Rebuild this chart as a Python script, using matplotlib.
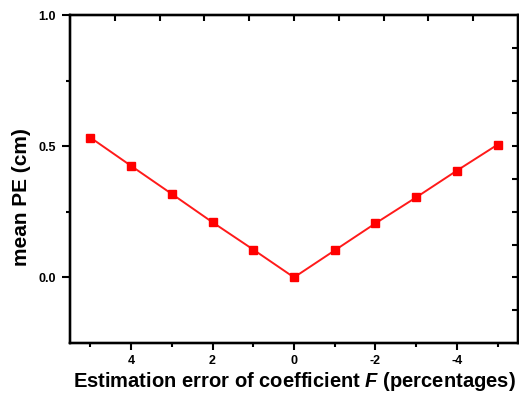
import matplotlib
matplotlib.use("Agg")
import matplotlib.pyplot as plt
import numpy as np

plt.rcParams['font.family'] = ['Liberation Sans', 'DejaVu Sans']
plt.rcParams['mathtext.fontset'] = 'custom'
plt.rcParams['mathtext.bfit'] = 'Liberation Sans:bold:italic'
plt.rcParams['mathtext.bf'] = 'Liberation Sans:bold'
plt.rcParams['mathtext.it'] = 'Liberation Sans:italic'
plt.rcParams['mathtext.rm'] = 'Liberation Sans'

error_pct = [5, 4, 3, 2, 1, 0, -1, -2, -3, -4, -5]
mean_pe = [0.533, 0.425, 0.318, 0.210, 0.106, 0.0, 0.103, 0.206, 0.305, 0.407, 0.506]
xticks = [4, 2, 0, -2, -4]
xtick_labels = ['4', '2', '0', '-2', '-4']
yticks = [0.0, 0.5, 1.0]
ytick_labels = ['0.0', '0.5', '1.0']

fig = plt.figure(figsize=(5.19, 4.03), dpi=100)
ax = fig.add_axes([70/519, 60/403, 448/519, 328/403])

ax.plot(error_pct, mean_pe, color='#ff1a1a', lw=1.4, marker='s', ms=5.5,
        markerfacecolor='#ff0000', markeredgecolor='#ff0000')

ax.set_xlim(5.5, -5.5)
ax.set_ylim(-0.25, 1.0)
ax.set_xticks(xticks)
ax.set_xticklabels(xtick_labels)
ax.set_xticks([5, 3, 1, -1, -3, -5], minor=True)
ax.set_yticks(yticks)
ax.set_yticklabels(ytick_labels)
ax.set_yticks([0.25, 0.75], minor=True)

for lab in ax.get_xticklabels() + ax.get_yticklabels():
    lab.set_fontweight('bold')
    lab.set_fontsize(9)

ax.tick_params(axis='both', which='major', direction='out', length=5, width=1.5, pad=4)
ax.tick_params(axis='y', which='major', length=6, pad=4)
ax.tick_params(axis='both', which='minor', direction='out', length=3, width=1.5)
for s in ax.spines.values():
    s.set_linewidth(1.6)

# top and right ticks (10 equal divisions, inward)
tw = ax.twiny()
tw.set_xlim(0, 1)
tw.set_xticks(np.arange(1, 10) / 10)
tw.set_xticklabels([])
tw.tick_params(axis='x', direction='in', length=4, width=1.5)
rw = ax.twinx()
rw.set_ylim(0, 1)
rw.set_yticks(np.arange(1, 10) / 10)
rw.set_yticklabels([])
rw.tick_params(axis='y', direction='in', length=4, width=1.5)
for a in (tw, rw):
    for s in a.spines.values():
        s.set_linewidth(1.6)

ax.set_ylabel('mean PE (cm)', fontsize=15, fontweight='bold')
ax.yaxis.set_label_coords(-0.088, 0.445)
ax.set_xlabel(r'Estimation error of coefficient $\mathbfit{F}$ (percentages)',
              fontsize=14.5, fontweight='bold', labelpad=2)

fig.savefig('out.png', dpi=100)
